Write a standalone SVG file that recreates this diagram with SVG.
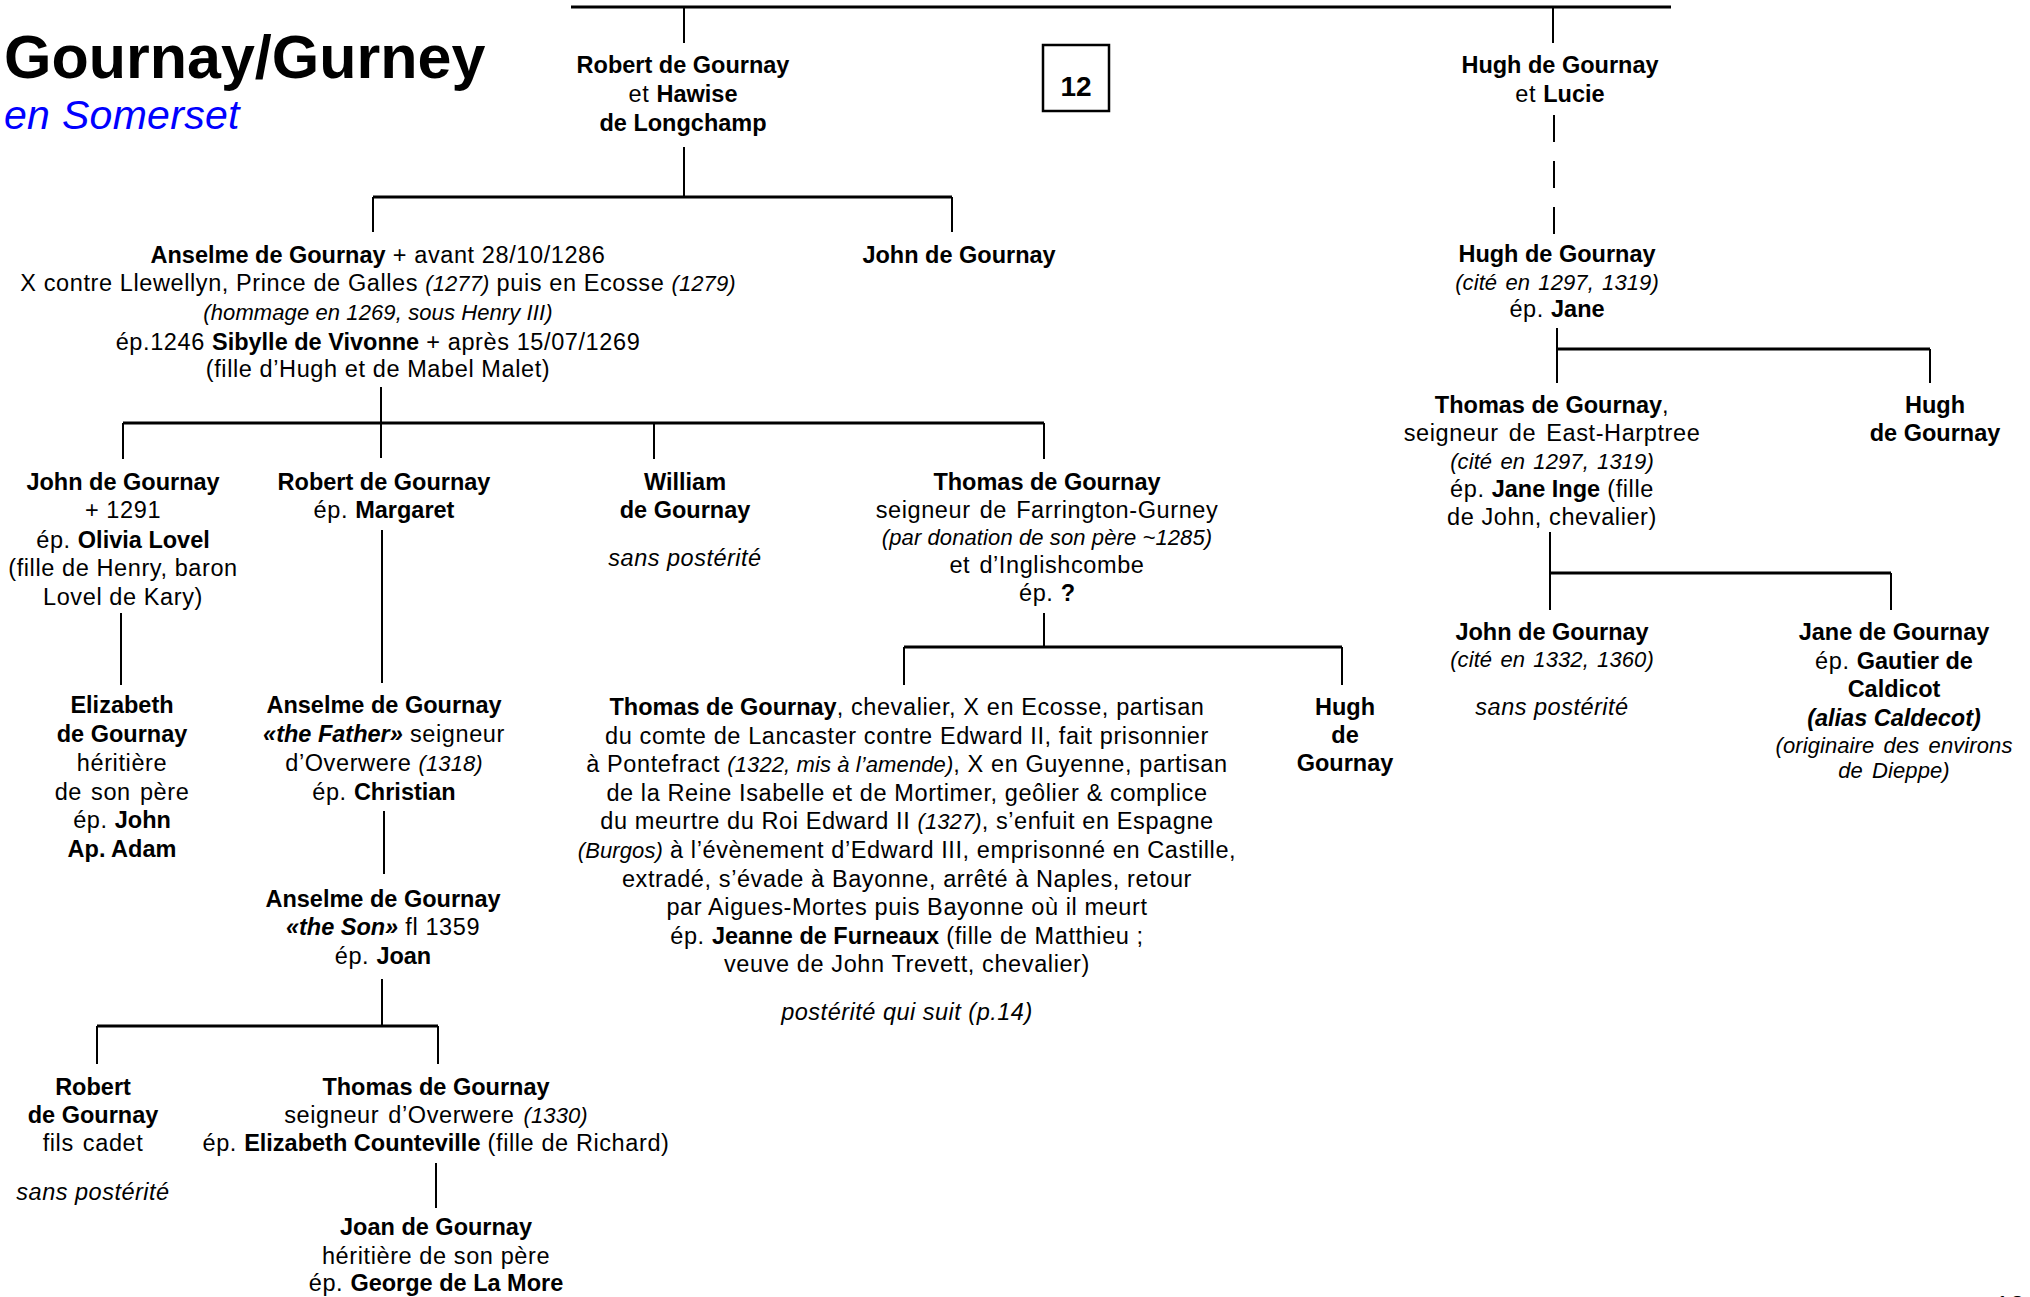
<svg xmlns="http://www.w3.org/2000/svg" width="2030" height="1297" viewBox="0 0 2030 1297">
<style>
text{font-family:'Liberation Sans',Arial,sans-serif;font-size:23.5px;fill:#000;text-anchor:middle;letter-spacing:0.6px}
.b{font-weight:bold;letter-spacing:0}
.i{font-style:italic;font-size:22px;letter-spacing:0.1px}
.bi{font-weight:bold;font-style:italic;letter-spacing:0}
.sp{font-style:italic;letter-spacing:0.5px}
.h{stroke:#000;stroke-width:3;fill:none}
.v{stroke:#000;stroke-width:2;fill:none}
.d{stroke:#000;stroke-width:2;fill:none;stroke-dasharray:27 19}
</style>
<rect width="2030" height="1297" fill="#fff"/>
<g id="title">
<text x="4" y="78" class="b" style="font-size:61px;text-anchor:start">Gournay/Gurney</text>
<text x="4" y="129" style="font-size:41px;font-style:italic;fill:#0000ff;text-anchor:start;letter-spacing:0.3px">en Somerset</text>
</g>
<g id="page-box">
<rect x="1043" y="45" width="66" height="66" fill="none" stroke="#000" stroke-width="2.5"/>
<text x="1076" y="96" class="b" style="font-size:28px">12</text>
</g>
<g id="connectors">
<path class="h" d="M571,7H1671M373,197H952M1557,349H1930M123,423H1044M904,647H1342M1550,573H1891M97,1026H438"/>
<path class="v" d="M684,7V43M1553,7V43M684,147V197M373,197V232M952,197V232M1557,328V383M1930,349V383M381,387V458M123,423V459M654,423V459M1044,423V459M121,613V685M382,530V683M384,811V874M1044,613V647M904,647V685M1342,647V685M1550,532V610M1891,573V610M382,979V1026M97,1026V1064M438,1026V1064M436,1163V1208"/>
<path class="d" d="M1554,115V234"/>
</g>
<g id="robert-hawise">
<text x="683" y="73" class="b">Robert de Gournay</text>
<text x="683" y="102">et <tspan class="b">Hawise</tspan></text>
<text x="683" y="131" class="b">de Longchamp</text>
</g>
<g id="hugh-lucie">
<text x="1560" y="73" class="b">Hugh de Gournay</text>
<text x="1560" y="102">et <tspan class="b">Lucie</tspan></text>
</g>
<g id="anselme">
<text x="378" y="263"><tspan class="b">Anselme de Gournay</tspan> + avant 28/10/1286</text>
<text x="378" y="291">X contre Llewellyn, Prince de Galles <tspan class="i">(1277)</tspan> puis en Ecosse <tspan class="i">(1279)</tspan></text>
<text x="378" y="320" class="i">(hommage en 1269, sous Henry III)</text>
<text x="378" y="350">ép.1246 <tspan class="b">Sibylle de Vivonne</tspan> + après 15/07/1269</text>
<text x="378" y="377">(fille d’Hugh et de Mabel Malet)</text>
</g>
<g id="john-top">
<text x="959" y="263" class="b">John de Gournay</text>
</g>
<g id="hugh-jane">
<text x="1557" y="262" class="b">Hugh de Gournay</text>
<text x="1557" y="290" class="i" style="word-spacing:2px">(cité en 1297, 1319)</text>
<text x="1557" y="317">ép. <tspan class="b">Jane</tspan></text>
</g>
<g id="john-olivia">
<text x="123" y="490" class="b">John de Gournay</text>
<text x="123" y="518">+ 1291</text>
<text x="123" y="548">ép. <tspan class="b">Olivia Lovel</tspan></text>
<text x="123" y="576">(fille de Henry, baron</text>
<text x="123" y="605">Lovel de Kary)</text>
</g>
<g id="robert-margaret">
<text x="384" y="490" class="b">Robert de Gournay</text>
<text x="384" y="518">ép. <tspan class="b">Margaret</tspan></text>
</g>
<g id="william">
<text x="685" y="490" class="b">William</text>
<text x="685" y="518" class="b">de Gournay</text>
<text x="685" y="566" class="sp">sans postérité</text>
</g>
<g id="thomas-farrington">
<text x="1047" y="490" class="b">Thomas de Gournay</text>
<text x="1047" y="518" style="word-spacing:2px">seigneur de Farrington-Gurney</text>
<text x="1047" y="545" class="i">(par donation de son père ~1285)</text>
<text x="1047" y="573" style="word-spacing:2px">et d’Inglishcombe</text>
<text x="1047" y="601">ép. <tspan class="b">?</tspan></text>
</g>
<g id="elizabeth">
<text x="122" y="713" class="b">Elizabeth</text>
<text x="122" y="742" class="b">de Gournay</text>
<text x="122" y="771">héritière</text>
<text x="122" y="800" style="word-spacing:2px">de son père</text>
<text x="122" y="828">ép. <tspan class="b">John</tspan></text>
<text x="122" y="857" class="b">Ap. Adam</text>
</g>
<g id="anselme-father">
<text x="384" y="713" class="b">Anselme de Gournay</text>
<text x="384" y="742"><tspan class="bi">«the Father»</tspan> seigneur</text>
<text x="384" y="771">d’Overwere <tspan class="i">(1318)</tspan></text>
<text x="384" y="800">ép. <tspan class="b">Christian</tspan></text>
</g>
<g id="anselme-son">
<text x="383" y="907" class="b">Anselme de Gournay</text>
<text x="383" y="935"><tspan class="bi">«the Son»</tspan> fl 1359</text>
<text x="383" y="964">ép. <tspan class="b">Joan</tspan></text>
</g>
<g id="robert-cadet">
<text x="93" y="1095" class="b">Robert</text>
<text x="93" y="1123" class="b">de Gournay</text>
<text x="93" y="1151" style="word-spacing:2px">fils cadet</text>
<text x="93" y="1200" class="sp">sans postérité</text>
</g>
<g id="thomas-overwere">
<text x="436" y="1095" class="b">Thomas de Gournay</text>
<text x="436" y="1123" style="word-spacing:2px">seigneur d’Overwere <tspan class="i">(1330)</tspan></text>
<text x="436" y="1151">ép. <tspan class="b">Elizabeth Counteville</tspan> (fille de Richard)</text>
</g>
<g id="joan">
<text x="436" y="1235" class="b">Joan de Gournay</text>
<text x="436" y="1264">héritière de son père</text>
<text x="436" y="1291">ép. <tspan class="b">George de La More</tspan></text>
</g>
<g id="thomas-chevalier">
<text x="907" y="715"><tspan class="b">Thomas de Gournay</tspan>, chevalier, X en Ecosse, partisan</text>
<text x="907" y="743.6">du comte de Lancaster contre Edward II, fait prisonnier</text>
<text x="907" y="772.2">à Pontefract <tspan class="i">(1322, mis à l’amende)</tspan>, X en Guyenne, partisan</text>
<text x="907" y="800.8">de la Reine Isabelle et de Mortimer, geôlier &amp; complice</text>
<text x="907" y="829.4">du meurtre du Roi Edward II <tspan class="i">(1327)</tspan>, s’enfuit en Espagne</text>
<text x="907" y="858"><tspan class="i">(Burgos)</tspan> à l’évènement d’Edward III, emprisonné en Castille,</text>
<text x="907" y="886.6">extradé, s’évade à Bayonne, arrêté à Naples, retour</text>
<text x="907" y="915.2">par Aigues-Mortes puis Bayonne où il meurt</text>
<text x="907" y="943.8">ép. <tspan class="b">Jeanne de Furneaux</tspan> (fille de Matthieu ;</text>
<text x="907" y="972.4">veuve de John Trevett, chevalier)</text>
<text x="907" y="1020" class="sp">postérité qui suit (p.14)</text>
</g>
<g id="hugh-middle">
<text x="1345" y="715" class="b">Hugh</text>
<text x="1345" y="743" class="b">de</text>
<text x="1345" y="771" class="b">Gournay</text>
</g>
<g id="thomas-harptree">
<text x="1552" y="413"><tspan class="b">Thomas de Gournay</tspan>,</text>
<text x="1552" y="441" style="word-spacing:3px">seigneur de East-Harptree</text>
<text x="1552" y="469" class="i" style="word-spacing:2px">(cité en 1297, 1319)</text>
<text x="1552" y="497">ép. <tspan class="b">Jane Inge</tspan> (fille</text>
<text x="1552" y="525">de John, chevalier)</text>
</g>
<g id="hugh-right">
<text x="1935" y="413" class="b">Hugh</text>
<text x="1935" y="441" class="b">de Gournay</text>
</g>
<g id="john-right">
<text x="1552" y="640" class="b">John de Gournay</text>
<text x="1552" y="667" class="i" style="word-spacing:2px">(cité en 1332, 1360)</text>
<text x="1552" y="715" class="sp">sans postérité</text>
</g>
<g id="jane">
<text x="1894" y="640" class="b">Jane de Gournay</text>
<text x="1894" y="669">ép. <tspan class="b">Gautier de</tspan></text>
<text x="1894" y="697" class="b">Caldicot</text>
<text x="1894" y="726" class="bi">(alias Caldecot)</text>
<text x="1894" y="753" class="i" style="word-spacing:3px">(originaire des environs</text>
<text x="1894" y="778" class="i" style="word-spacing:3px">de Dieppe)</text>
</g>
<g id="page-number">
<text x="2010" y="1314" style="font-size:26px">12</text>
</g>
</svg>
